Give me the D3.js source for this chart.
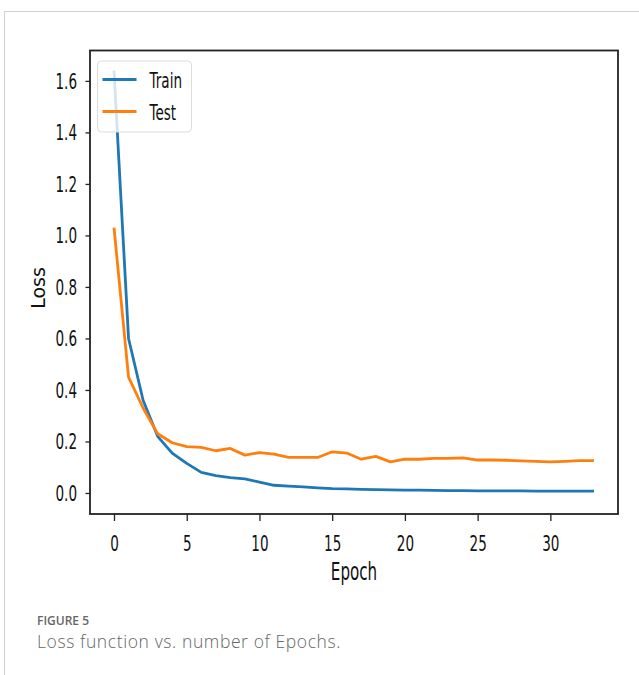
<!DOCTYPE html>
<html>
<head>
<meta charset="utf-8">
<script src="https://cdn.jsdelivr.net/npm/d3@7"></script>
<style>
  html, body { margin: 0; padding: 0; background: #fff; }
  svg { display: block; }
</style>
</head>
<body>
<div id="chart"></div>
<script>
// loss per epoch
const epochs = d3.range(0, 34);
const trainLoss = [1.64, 0.60, 0.36, 0.22, 0.155, 0.115, 0.08, 0.067, 0.06, 0.055,
  0.042, 0.03, 0.027, 0.024, 0.02, 0.017, 0.016, 0.014, 0.013, 0.012,
  0.011, 0.011, 0.01, 0.009, 0.009, 0.008, 0.008, 0.008, 0.008, 0.007,
  0.007, 0.007, 0.007, 0.007];
const testLoss = [1.03, 0.45, 0.33, 0.23, 0.195, 0.18, 0.177, 0.164, 0.173, 0.147,
  0.157, 0.151, 0.138, 0.138, 0.138, 0.16, 0.155, 0.131, 0.142, 0.121,
  0.131, 0.131, 0.134, 0.134, 0.136, 0.128, 0.128, 0.127, 0.125, 0.123,
  0.121, 0.123, 0.126, 0.126];
const xTicks = [0, 5, 10, 15, 20, 25, 30];
const yTicks = [0.0, 0.2, 0.4, 0.6, 0.8, 1.0, 1.2, 1.4, 1.6];
const seriesNames = ["Train", "Test"];
const colors = ["#1f77b4", "#ff7f0e"];

const W = 639, H = 675;
const plot = { left: 90, right: 618, top: 50.5, bottom: 514 };
const squeeze = 0.63; // the source figure is stretched vertically

const svg = d3.select("#chart").append("svg")
  .attr("width", W)
  .attr("height", H);

// card border (left + top)
svg.append("path")
  .attr("d", `M4.5,${H} L4.5,11.5 L${W},11.5`)
  .attr("fill", "none")
  .attr("stroke", "#cfcfcf")
  .attr("stroke-width", 1);

const x = d3.scaleLinear().domain([-1.65, 34.65]).range([plot.left, plot.right]);
const y = d3.scaleLinear().domain([-0.0816, 1.718]).range([plot.bottom, plot.top]);

const tickFont = "'DejaVu Sans', sans-serif";

// y axis
const gy = svg.append("g")
  .attr("transform", `translate(${plot.left},0)`)
  .call(d3.axisLeft(y).tickValues(yTicks).tickSize(4.5).tickFormat(d3.format(".1f")));
gy.select(".domain").remove();
gy.selectAll(".tick line").attr("stroke", "#222").attr("stroke-width", 1.3);
gy.selectAll(".tick text")
  .attr("x", null).attr("dy", null)
  .attr("transform", `translate(-13,7.5) scale(${squeeze},1)`)
  .attr("text-anchor", "end")
  .attr("fill", "#111")
  .style("font-family", tickFont)
  .style("font-size", "21.5px");

// x axis
const gx = svg.append("g")
  .attr("transform", `translate(0,${plot.bottom})`)
  .call(d3.axisBottom(x).tickValues(xTicks).tickSize(7).tickFormat(d3.format("d")));
gx.select(".domain").remove();
gx.selectAll(".tick line").attr("stroke", "#222").attr("stroke-width", 1.3);
gx.selectAll(".tick text")
  .attr("y", null).attr("dy", null)
  .attr("transform", `translate(0,37) scale(${squeeze},1)`)
  .attr("text-anchor", "middle")
  .attr("fill", "#111")
  .style("font-family", tickFont)
  .style("font-size", "21.5px");

// lines
const line = d3.line()
  .x((d, i) => x(epochs[i]))
  .y(d => y(d));

[trainLoss, testLoss].forEach((s, k) => {
  svg.append("path")
    .datum(s)
    .attr("d", line)
    .attr("fill", "none")
    .attr("stroke", colors[k])
    .attr("stroke-width", 2.8)
    .attr("stroke-linejoin", "round");
});

// frame
svg.append("rect")
  .attr("x", plot.left).attr("y", plot.top)
  .attr("width", plot.right - plot.left)
  .attr("height", plot.bottom - plot.top)
  .attr("fill", "none")
  .attr("stroke", "#222")
  .attr("stroke-width", 1.8);

// legend
const lg = svg.append("g").attr("transform", "translate(97.5,61)");
lg.append("rect")
  .attr("width", 94).attr("height", 71)
  .attr("rx", 4)
  .attr("fill", "#fff").attr("fill-opacity", 0.8)
  .attr("stroke", "#dcdcdc").attr("stroke-width", 1);
seriesNames.forEach((name, i) => {
  const yy = 18.5 + i * 32;
  lg.append("line")
    .attr("x1", 5).attr("x2", 39)
    .attr("y1", yy).attr("y2", yy)
    .attr("stroke", colors[i]).attr("stroke-width", 2.8);
  lg.append("text")
    .attr("transform", `translate(52,${yy + 8}) scale(${squeeze},1)`)
    .attr("fill", "#111")
    .style("font-family", tickFont)
    .style("font-size", "21.5px")
    .text(name);
});

// axis titles
svg.append("text")
  .attr("transform", `translate(${(plot.left + plot.right) / 2},580) scale(${squeeze},1)`)
  .attr("text-anchor", "middle")
  .attr("fill", "#111")
  .style("font-family", tickFont)
  .style("font-size", "24px")
  .text("Epoch");

svg.append("text")
  .attr("transform", "translate(45,288) rotate(-90)")
  .attr("text-anchor", "middle")
  .attr("fill", "#111")
  .style("font-family", tickFont)
  .style("font-size", "19px")
  .text("Loss");

// caption
svg.append("text")
  .attr("x", 37).attr("y", 625)
  .attr("fill", "#666")
  .style("font-family", "'Open Sans', sans-serif")
  .style("font-weight", 600)
  .style("font-size", "12px")
  .text("FIGURE 5");

svg.append("text")
  .attr("x", 37).attr("y", 648)
  .attr("fill", "#666")
  .style("font-family", "'Open Sans', sans-serif")
  .style("font-weight", 300)
  .style("font-size", "17.5px")
  .style("letter-spacing", "0.6px")
  .text("Loss function vs. number of Epochs.");
</script>
</body>
</html>
